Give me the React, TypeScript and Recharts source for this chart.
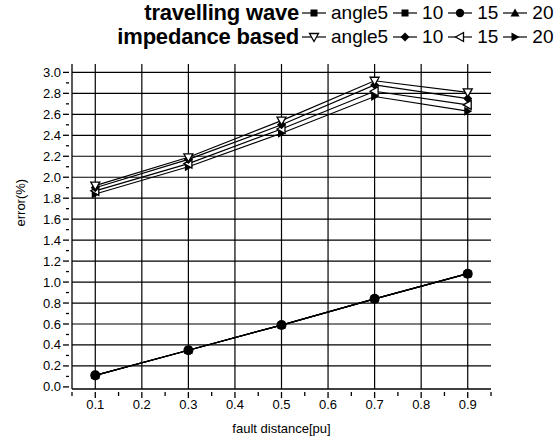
import React from 'react';
import {
  LineChart,
  Line,
  XAxis,
  YAxis,
  ReferenceLine,
} from 'recharts';

const distances = [0.1, 0.3, 0.5, 0.7, 0.9];

// travelling wave method, one list per fault angle
const twAngle5 = [0.11, 0.35, 0.59, 0.84, 1.08];
const twAngle10 = [0.11, 0.35, 0.59, 0.84, 1.08];
const twAngle15 = [0.11, 0.35, 0.59, 0.84, 1.08];
const twAngle20 = [0.11, 0.35, 0.59, 0.84, 1.08];

// impedance based method
const impAngle5 = [1.92, 2.19, 2.54, 2.92, 2.81];
const impAngle10 = [1.9, 2.17, 2.5, 2.88, 2.75];
const impAngle15 = [1.87, 2.13, 2.46, 2.82, 2.69];
const impAngle20 = [1.84, 2.1, 2.42, 2.77, 2.63];

const angleLabels = ['angle5', '10', '15', '20'];

const xMajor = [0.1, 0.2, 0.3, 0.4, 0.5, 0.6, 0.7, 0.8, 0.9];
const xTicks = [0.05, 0.1, 0.15, 0.2, 0.25, 0.3, 0.35, 0.4, 0.45, 0.5, 0.55, 0.6, 0.65, 0.7, 0.75, 0.8, 0.85, 0.9, 0.95];
const yMajor = [0, 0.2, 0.4, 0.6, 0.8, 1.0, 1.2, 1.4, 1.6, 1.8, 2.0, 2.2, 2.4, 2.6, 2.8, 3.0];
const yTicks = [0, 0.1, 0.2, 0.3, 0.4, 0.5, 0.6, 0.7, 0.8, 0.9, 1.0, 1.1, 1.2, 1.3, 1.4, 1.5, 1.6, 1.7, 1.8, 1.9, 2.0, 2.1, 2.2, 2.3, 2.4, 2.5, 2.6, 2.7, 2.8, 2.9, 3.0];

const data = distances.map((d, i) => ({
  d,
  tw5: twAngle5[i],
  tw10: twAngle10[i],
  tw15: twAngle15[i],
  tw20: twAngle20[i],
  imp5: impAngle5[i],
  imp10: impAngle10[i],
  imp15: impAngle15[i],
  imp20: impAngle20[i],
}));

type Shape = 'square' | 'circle' | 'triUp' | 'triDownOpen' | 'diamond' | 'triLeftOpen' | 'triRight';

function Marker({ shape, cx, cy, big }: { shape: Shape; cx: number; cy: number; big?: boolean }) {
  const s = 3.5;
  switch (shape) {
    case 'square':
      return <rect x={cx - 3.5} y={cy - 3.5} width={7} height={7} fill="#000" />;
    case 'circle':
      return <circle cx={cx} cy={cy} r={big ? 5 : 4.2} fill="#000" />;
    case 'triUp':
      return <polygon points={`${cx},${cy - s - 1} ${cx + s + 1},${cy + s} ${cx - s - 1},${cy + s}`} fill="#000" />;
    case 'triDownOpen':
      return <polygon points={`${cx - s - 1},${cy - s} ${cx + s + 1},${cy - s} ${cx},${cy + s + 1}`} fill="#fff" stroke="#000" strokeWidth={1.3} />;
    case 'diamond':
      return <polygon points={`${cx},${cy - s - 1} ${cx + s + 1},${cy} ${cx},${cy + s + 1} ${cx - s - 1},${cy}`} fill="#000" />;
    case 'triLeftOpen':
      return <polygon points={`${cx - s - 1},${cy} ${cx + s},${cy - s - 1} ${cx + s},${cy + s + 1}`} fill="#fff" stroke="#000" strokeWidth={1.3} />;
    case 'triRight':
      return <polygon points={`${cx + s + 1},${cy} ${cx - s},${cy - s - 1} ${cx - s},${cy + s + 1}`} fill="#000" />;
  }
  return null;
}

const twShapes: Shape[] = ['square', 'square', 'circle', 'triUp'];
const impShapes: Shape[] = ['triDownOpen', 'diamond', 'triLeftOpen', 'triRight'];

const dotFor = (shape: Shape) => (props: any) => (
  <Marker key={`${shape}-${props.index}`} shape={shape} cx={props.cx} cy={props.cy} big />
);

function XTick({ x, y, payload }: any) {
  const major = xMajor.some((m) => Math.abs(m - payload.value) < 1e-6);
  return (
    <g>
      <line x1={x} x2={x} y1={y - 5} y2={y - 5 + (major ? 6 : 4)} stroke="#000" strokeWidth={1.3} />
      {major && (
        <text x={x} y={y + 12} textAnchor="middle" fontSize={13} fill="#000">
          {payload.value.toFixed(1)}
        </text>
      )}
    </g>
  );
}

function YTick({ x, y, payload }: any) {
  const major = yMajor.some((m) => Math.abs(m - payload.value) < 1e-6);
  return (
    <g>
      <line x1={x + 5} x2={x + 5 - (major ? 6 : 3)} y1={y} y2={y} stroke="#000" strokeWidth={1.3} />
      {major && (
        <text x={x - 3} y={y + 4.5} textAnchor="end" fontSize={13} fill="#000">
          {payload.value.toFixed(1)}
        </text>
      )}
    </g>
  );
}

function LegendRow({ title, shapes, top, titleRight }: { title: string; shapes: Shape[]; top: number; titleRight: number }) {
  return (
    <div style={{ position: 'absolute', top, left: 0, width: 558, height: 22, lineHeight: '22px' }}>
      <div
        style={{
          position: 'absolute',
          right: 558 - titleRight,
          top: 0,
          fontWeight: 'bold',
          fontSize: 22,
          letterSpacing: -0.2,
          whiteSpace: 'nowrap',
        }}
      >
        {title}
      </div>
      <div style={{ position: 'absolute', left: titleRight + 1, top: 0, height: 22, display: 'flex', alignItems: 'center', whiteSpace: 'nowrap', fontSize: 19 }}>
        {shapes.map((shape, i) => (
          <React.Fragment key={i}>
            <svg width={28} height={22} style={{ display: 'block' }}>
              <line x1={2} x2={26} y1={11} y2={11} stroke="#000" strokeWidth={1.2} />
              <Marker shape={shape} cx={14} cy={11} />
            </svg>
            <span style={{ marginLeft: 3, marginRight: 3 }}>{angleLabels[i]}</span>
          </React.Fragment>
        ))}
      </div>
    </div>
  );
}

// drawing order: the circle series on top, as in the source plot
const twOrder = [3, 0, 1, 2];
const twKeys = ['tw5', 'tw10', 'tw15', 'tw20'];
const impOrder = [3, 2, 1, 0];
const impKeys = ['imp5', 'imp10', 'imp15', 'imp20'];

export default function App() {
  return (
    <div
      style={{
        position: 'absolute',
        left: 0,
        top: 0,
        width: 558,
        height: 438,
        background: '#fff',
        fontFamily: '"Liberation Sans", Arial, sans-serif',
        color: '#000',
      }}
    >
      <LegendRow title="travelling wave" shapes={twShapes} top={2} titleRight={299} />
      <LegendRow title="impedance based" shapes={impShapes} top={26} titleRight={299} />
      <div style={{ position: 'absolute', left: 0, top: 0 }}>
        <LineChart width={558} height={438} data={data} margin={{ top: 64, right: 67, bottom: 0, left: 0 }}>
          {xMajor.map((v) => (
            <ReferenceLine key={`vx${v}`} x={v} stroke="#000" strokeWidth={1.2} ifOverflow="hidden" />
          ))}
          {yMajor.filter((v) => v > 0).map((v) => (
            <ReferenceLine key={`hy${v}`} y={v} stroke="#000" strokeWidth={1.2} ifOverflow="hidden" />
          ))}
          <XAxis
            dataKey="d"
            type="number"
            domain={[0.05, 0.95]}
            ticks={xTicks}
            interval={0}
            height={49}
            stroke="#000"
            strokeWidth={1.3}
            tickLine={false}
            tick={<XTick />}
            label={{ value: 'fault distance[pu]', position: 'insideBottom', offset: 5, fontSize: 13, fill: '#000' }}
          />
          <YAxis
            type="number"
            domain={[-0.02, 3.08]}
            ticks={yTicks}
            interval={0}
            width={72}
            stroke="#000"
            strokeWidth={1.3}
            tickLine={false}
            tick={<YTick />}
            label={{ value: 'error(%)', angle: -90, position: 'insideLeft', offset: 20, fontSize: 13, fill: '#000' }}
          />
          {twOrder.map((i) => (
            <Line
              key={twKeys[i]}
              dataKey={twKeys[i]}
              stroke="#000"
              strokeWidth={1.2}
              dot={dotFor(twShapes[i])}
              activeDot={false}
              isAnimationActive={false}
            />
          ))}
          {impOrder.map((i) => (
            <Line
              key={impKeys[i]}
              dataKey={impKeys[i]}
              stroke="#000"
              strokeWidth={1.2}
              dot={dotFor(impShapes[i])}
              activeDot={false}
              isAnimationActive={false}
            />
          ))}
        </LineChart>
      </div>
    </div>
  );
}
